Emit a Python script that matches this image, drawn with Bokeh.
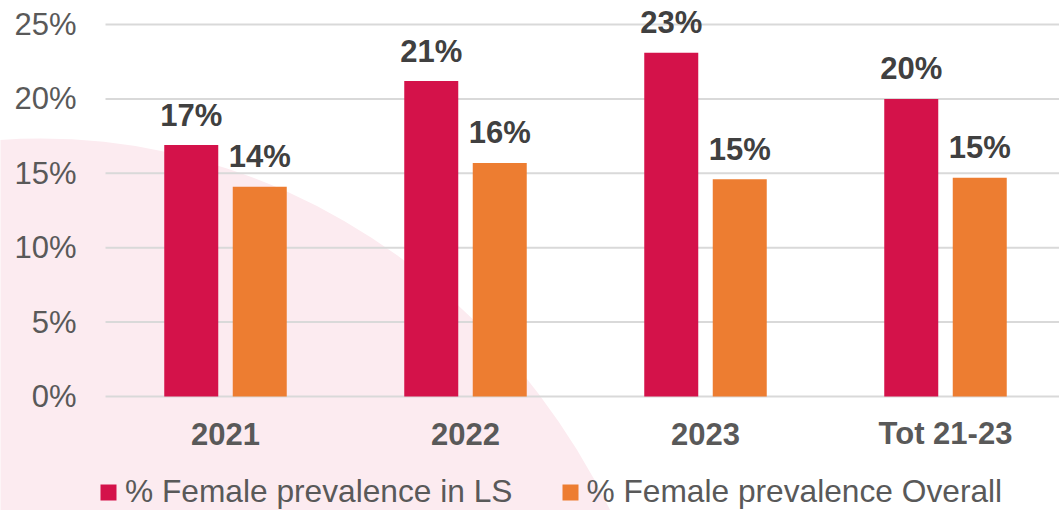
from bokeh.plotting import figure
from bokeh.models import Range1d, Legend, LegendItem, ColumnDataSource
from bokeh.core.properties import value
from bokeh.embed import file_html
from bokeh.resources import INLINE

# ---- data ----
categories = ["2021", "2022", "2023", "Tot 21-23"]
ls_values = [16.9, 21.2, 23.1, 20.0]
overall_values = [14.1, 15.7, 14.6, 14.7]
series_names = ["% Female prevalence in LS", "% Female prevalence Overall"]
y_ticks = [0, 5, 10, 15, 20, 25]
y_tick_labels = ["0%", "5%", "10%", "15%", "20%", "25%"]

# ---- layout constants (pixels of the 1059x510 canvas) ----
W, H = 1059, 510
PLOT_LEFT_PX = 105      # where the value axis / gridlines start
ZERO_PX = 396           # vertical pixel of 0%
PX_PER_CAT = 240.0
PX_PER_PCT = 14.88
BAR_W = 0.225
OFFSET = 0.1427
FONT = "Liberation Sans"
RED = "#D4124A"
ORANGE = "#ED7D31"
PINK = "#FCEBF0"
GREY = "#595959"
DARK = "#404040"


def dx(px):  # canvas x pixel -> data x
    return (px - PLOT_LEFT_PX) / PX_PER_CAT


def dy(py):  # canvas y pixel -> data y
    return (ZERO_PX - py) / PX_PER_PCT


centers = [i + 0.5 for i in range(len(categories))]
src = ColumnDataSource(dict(
    x_ls=[c - OFFSET for c in centers],
    x_ov=[c + OFFSET for c in centers],
    ls=ls_values,
    ov=overall_values,
    ls_lab=[f"{round(v)}%" for v in ls_values],
    ov_lab=[f"{round(v)}%" for v in overall_values],
))

p = figure(width=W, height=H, output_backend="svg", toolbar_location=None,
           title=None, x_axis_location=None, y_axis_location=None,
           x_range=Range1d(dx(0), dx(W)), y_range=Range1d(dy(H), dy(0)),
           min_border=0)
p.outline_line_color = None
p.background_fill_color = "white"
p.border_fill_color = "white"
p.grid.visible = False

# decorative pink shape in the background
p.ellipse(x=dx(40), y=dy(838), width=2 * 645 / PX_PER_CAT, height=2 * 700 / PX_PER_PCT,
          fill_color=PINK, line_color=None)

# horizontal gridlines at the value ticks
p.segment(x0=[0] * len(y_ticks), x1=[dx(W)] * len(y_ticks), y0=y_ticks, y1=y_ticks,
          line_color="#D9D9D9", line_width=2)

# value-axis tick labels
p.text(x=[dx(76)] * len(y_ticks), y=y_ticks, text=y_tick_labels,
       text_align="right", text_baseline="middle",
       text_font=value(FONT), text_font_size="31px", text_color=GREY)

# category labels
p.text(x=centers, y=[dy(433)] * len(categories), text=categories,
       text_align="center", text_baseline="middle",
       text_font=value(FONT), text_font_size="31px", text_font_style="bold",
       text_color=GREY)

r1 = p.vbar(x="x_ls", top="ls", width=BAR_W, bottom=0, source=src,
            fill_color=RED, line_color=None)
r2 = p.vbar(x="x_ov", top="ov", width=BAR_W, bottom=0, source=src,
            fill_color=ORANGE, line_color=None)

for xcol, tcol, ycol in (("x_ls", "ls_lab", "ls"), ("x_ov", "ov_lab", "ov")):
    p.text(x=xcol, y=ycol, text=tcol, source=src, text_align="center",
           text_baseline="alphabetic", y_offset=-30,
           text_font=value(FONT), text_font_size="31px", text_font_style="bold",
           text_color=DARK)

legend = Legend(items=[LegendItem(label=series_names[0], renderers=[r1]),
                       LegendItem(label=series_names[1], renderers=[r2])],
                orientation="horizontal", location=(98, 0),
                glyph_width=20, glyph_height=20, label_standoff=7, spacing=47,
                padding=0, margin=0, border_line_color=None, background_fill_alpha=0,
                label_text_font=FONT, label_text_font_size="31.7px",
                label_text_color=GREY)
p.add_layout(legend, "center")

open("out.html", "w").write(file_html(p, INLINE))
